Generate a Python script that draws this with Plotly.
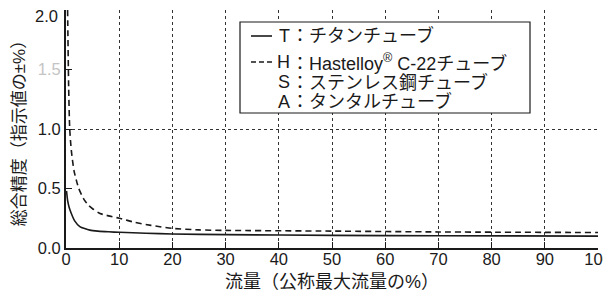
import plotly.graph_objects as go

# Data
t_flow = [0.1, 0.3, 0.6, 1.0, 1.6, 2.6, 3.5, 4.5, 6, 8, 10, 15, 20, 30, 50, 70, 100]
t_acc = [0.48, 0.40, 0.34, 0.29, 0.23, 0.18, 0.163, 0.15, 0.142, 0.136, 0.132, 0.124, 0.118, 0.112, 0.106, 0.103, 0.10]

h_flow = [0.3, 0.5, 0.7, 1.0, 1.5, 2.0, 2.4, 3.0, 3.5, 4.2, 5.0, 6.4, 8, 10, 13, 16, 20, 25, 30, 50, 70, 100]
h_acc = [2.0, 1.35, 1.0, 0.82, 0.65, 0.56, 0.50, 0.44, 0.40, 0.36, 0.33, 0.29, 0.27, 0.25, 0.215, 0.19, 0.165, 0.152, 0.148, 0.142, 0.135, 0.13]

x_ticks = [0, 10, 20, 30, 40, 50, 60, 70, 80, 90, 100]
y_ticks = [0.0, 0.5, 1.0, 1.5]
y_ticktext = ["0.0", "0.5", "1.0", "<span style='color:#c4c4c4'>1.5</span>"]
y_top_label = "2.0"
y_grid = [1.0, 2.0]

legend_keys = ["T", "H", "S", "A"]
legend_texts = ["：チタンチューブ", "：Hastelloy<sup>®</sup> C-22チューブ",
                "：ステンレス鋼チューブ", "：タンタルチューブ"]

FONT = "Liberation Sans, Arial, Noto Sans CJK JP, sans-serif"
INK = "#1a1a1a"

# The page has an 8px body margin; size the figure so the plot area lands
# at page x 66..598, y 10..248 inside the 611x298 window.
OFF = 8
W, H = 611 - OFF, 298 - OFF
L, R, T, B = 66 - OFF, 13, 10 - OFF, 50
PW, PH = W - L - R, H - T - B
def px(page_x):
    return (page_x - OFF - L) / PW
def py(page_y):
    return (H - B - (page_y - OFF)) / PH

fig = go.Figure()
fig.add_trace(go.Scatter(x=t_flow, y=t_acc, mode="lines", name="T" + legend_texts[0],
                         line=dict(color=INK, width=1.6, shape="spline", smoothing=0.6),
                         showlegend=False, hoverinfo="skip"))
fig.add_trace(go.Scatter(x=h_flow, y=h_acc, mode="lines", name="H" + legend_texts[1],
                         line=dict(color=INK, width=1.6, dash="6px,4px", shape="spline", smoothing=0.6),
                         showlegend=False, hoverinfo="skip"))
# invisible trace to carry the grid axis
fig.add_trace(go.Scatter(x=[0], y=[0], yaxis="y2", mode="markers",
                         marker=dict(opacity=0), showlegend=False, hoverinfo="skip"))

# legend box (drawn manually for tight spacing)
shapes = [
    dict(type="rect", xref="paper", yref="paper", x0=px(240), x1=px(530), y0=py(113), y1=py(22),
         line=dict(color=INK, width=1.2), fillcolor="white", layer="above"),
    dict(type="line", xref="paper", yref="paper", x0=px(251), x1=px(272), y0=py(36), y1=py(36),
         line=dict(color=INK, width=1.6), layer="above"),
    dict(type="line", xref="paper", yref="paper", x0=px(251), x1=px(272), y0=py(62), y1=py(62),
         line=dict(color=INK, width=1.6, dash="5px,3px"), layer="above"),
]
annotations = []
for key, txt, yy in zip(legend_keys, legend_texts, [36, 62, 82, 102]):
    annotations.append(dict(text=key, xref="paper", yref="paper", x=px(292), y=py(yy),
                            xanchor="right", yanchor="middle", showarrow=False,
                            font=dict(family=FONT, size=18, color=INK)))
    annotations.append(dict(text=txt, xref="paper", yref="paper", x=px(289), y=py(yy),
                            xanchor="left", yanchor="middle", showarrow=False,
                            font=dict(family=FONT, size=18, color=INK)))
# top y label placed slightly lower so it is not clipped by the page edge
annotations.append(dict(text=y_top_label, xref="paper", yref="paper", x=px(60), y=py(16),
                        xanchor="right", yanchor="middle", showarrow=False,
                        font=dict(family=FONT, size=16.5, color=INK)))

fig.update_layout(
    width=W, height=H,
    margin=dict(l=L, r=R, t=T, b=B),
    paper_bgcolor="white", plot_bgcolor="white",
    font=dict(family=FONT, size=16, color=INK),
    showlegend=False,
    shapes=shapes, annotations=annotations,
    xaxis=dict(range=[0, 100], tickvals=x_ticks, ticks="inside", ticklen=6,
               tickcolor=INK, tickwidth=1.2, automargin=False,
               ticklabeloverflow="allow", ticklabelstandoff=-5,
               showline=True, linecolor=INK, linewidth=1.5,
               showgrid=True, gridcolor="#333", griddash="dot", gridwidth=1,
               zeroline=False,
               tickfont=dict(family=FONT, size=16.5, color=INK),
               title=dict(text="流量（公称最大流量の%）", standoff=9,
                          font=dict(family=FONT, size=18, color=INK))),
    yaxis=dict(range=[0, 2.0], tickvals=y_ticks, ticktext=y_ticktext,
               ticks="inside", ticklen=6, tickcolor=INK, tickwidth=1.2,
               automargin=False, ticklabeloverflow="allow",
               showline=True, linecolor=INK, linewidth=1.8,
               showgrid=False, zeroline=False,
               tickfont=dict(family=FONT, size=16.5, color=INK),
               title=dict(text="総合精度（指示値の±%）\u3000", standoff=8,
                          font=dict(family=FONT, size=17, color=INK))),
    yaxis2=dict(range=[0, 2.0], overlaying="y", side="left", tickvals=y_grid,
                showticklabels=False, ticks="", showline=False, zeroline=False,
                automargin=False,
                showgrid=True, gridcolor="#333", griddash="dot", gridwidth=1),
)

fig.write_html("out.html")
